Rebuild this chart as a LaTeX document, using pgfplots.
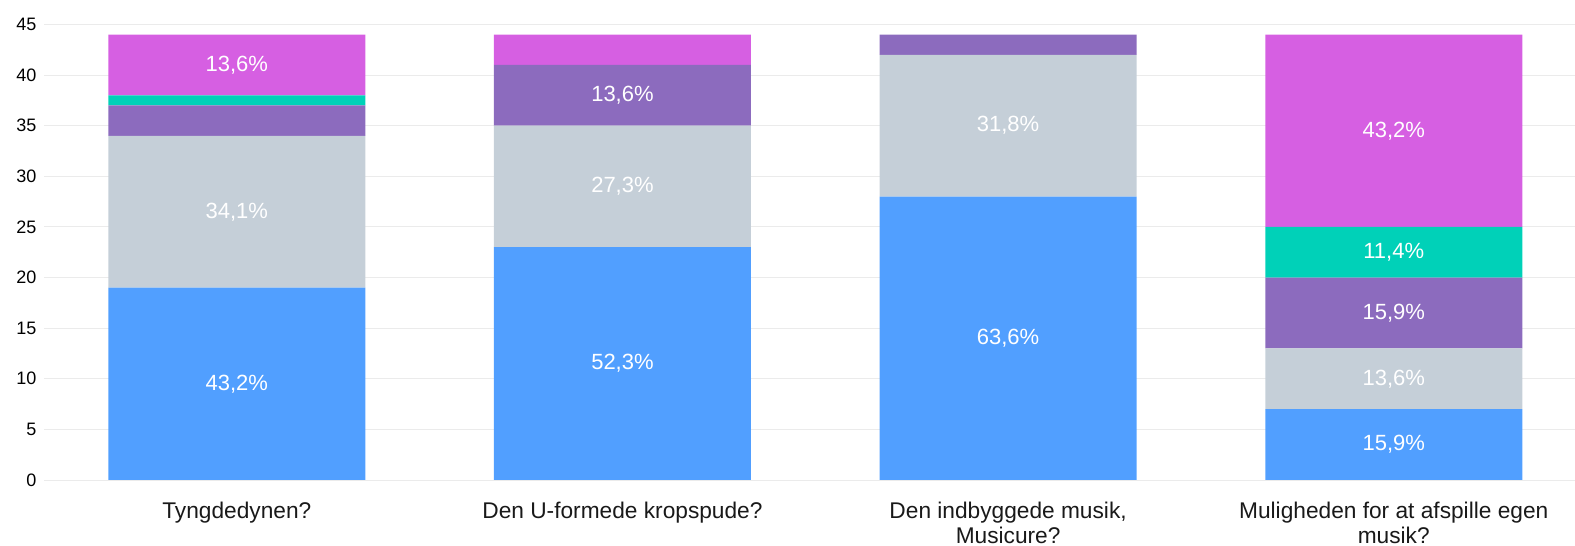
\documentclass[border=0pt]{standalone}
\usepackage{pgfplots}
\pgfplotsset{compat=1.18}
\usepackage{fontspec}
\setmainfont{Liberation Sans}

\definecolor{cblue}{HTML}{519FFF}
\definecolor{cgrey}{HTML}{C5CFD8}
\definecolor{cpurple}{HTML}{8C6BBE}
\definecolor{cteal}{HTML}{00D1B8}
\definecolor{cmagenta}{HTML}{D65FE2}
\definecolor{gridgray}{HTML}{EBEBEB}

\begin{document}
\begin{tikzpicture}
\path[use as bounding box] (-44bp,-66bp) rectangle (1531bp,480bp);
\begin{axis}[
  at={(0,0)}, anchor=south west,
  scale only axis,
  width=1531bp, height=455.5bp,
  ybar stacked,
  bar width=257bp,
  xmin=-0.5, xmax=3.47,
  ymin=0, ymax=45,
  ytick={0,5,...,45},
  xtick={0,1,2,3},
  xticklabels={Tyngdedynen?, Den U-formede kropspude?, {Den indbyggede musik,\\Musicure?}, {Muligheden for at afspille egen\\musik?}},
  axis line style={draw=none},
  major tick style={draw=none},
  ymajorgrids,
  grid style={color=gridgray, line width=1bp},
  /pgf/number format/assume math mode=true,
  yticklabel style={font=\fontsize{18bp}{20bp}\selectfont, text=black, xshift=-4bp},
  xticklabel style={font=\fontsize{22.7bp}{25bp}\selectfont, text=black!90, align=center, yshift=-19bp},
  nodes near coords,
  point meta=explicit symbolic,
  every node near coord/.style={anchor=center, text=white,
    font=\fontsize{22bp}{24bp}\selectfont},
]
\addplot+[fill=cblue, draw=none] table[x=x, y=v, meta=lbl] {
x v lbl
0 19 43,2\%
1 23 52,3\%
2 28 63,6\%
3 7 15,9\%
};
\addplot+[fill=cgrey, draw=none] table[x=x, y=v, meta=lbl] {
x v lbl
0 15 34,1\%
1 12 27,3\%
2 14 31,8\%
3 6 13,6\%
};
\addplot+[fill=cpurple, draw=none] table[x=x, y=v, meta=lbl] {
x v lbl
0 3 {}
1 6 13,6\%
2 2 {}
3 7 15,9\%
};
\addplot+[fill=cteal, draw=none] table[x=x, y=v, meta=lbl] {
x v lbl
0 1 {}
1 0 {}
2 0 {}
3 5 11,4\%
};
\addplot+[fill=cmagenta, draw=none] table[x=x, y=v, meta=lbl] {
x v lbl
0 6 13,6\%
1 3 {}
2 0 {}
3 19 43,2\%
};
\end{axis}
\end{tikzpicture}
\end{document}
